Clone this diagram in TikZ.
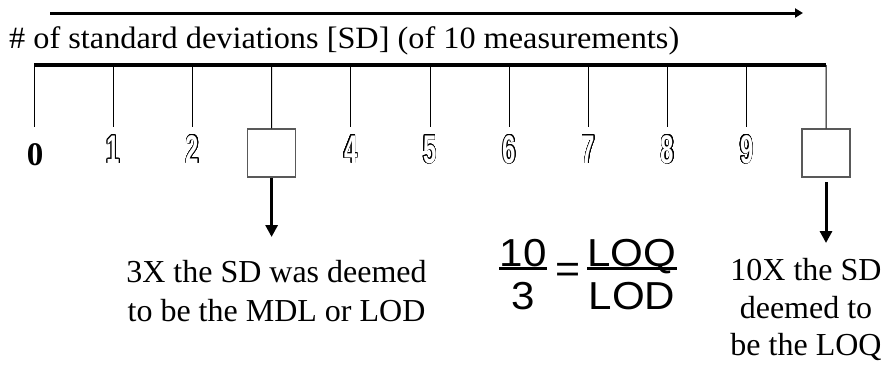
\documentclass[tikz,border=0pt]{standalone}
\usepackage{fontspec}
\setmainfont{Liberation Serif}
\setsansfont{Liberation Sans}
\usepackage{graphicx}
\usepackage{contour}
\contourlength{0.55pt}
\contournumber{24}
\usetikzlibrary{arrows.meta}
\newcommand{\outl}[1]{\textcolor{white}{\contour{black}{\scalebox{0.6}[1]{#1}}}}
\tikzset{
  tickline/.style={line width=1pt},
  axisline/.style={line width=3.5pt},
  toparrow/.style={line width=3pt,-{Triangle[length=8pt,width=9pt]}},
  downarrow/.style={line width=3pt,-{Triangle[length=12pt,width=12pt]}},
  valbox/.style={draw=black!65,line width=1.2pt,minimum width=48pt,minimum height=48pt,inner sep=0pt},
  digit/.style={font=\fontsize{40}{44}\selectfont\sffamily\bfseries,anchor=base,inner sep=0pt},
  zerodigit/.style={font=\fontsize{33}{36}\selectfont\bfseries,anchor=base,inner sep=0pt},
  txt/.style={font=\fontsize{32}{38}\selectfont,anchor=base,inner sep=0pt},
  fr/.style={font=\fontsize{39}{42}\selectfont\sffamily,anchor=base,inner sep=0pt},
  barline/.style={line width=3pt}
}
\begin{document}
\begin{tikzpicture}[x=1pt,y=-1pt]
\useasboundingbox (0,0) rectangle (885,365);
% top arrow
\coordinate (a0) at (50,13);
\coordinate (a1) at (803,13);
\draw[toparrow] (a0) -- (a1);
% title
\node[anchor=base west,inner sep=0pt,font=\fontsize{31}{34}\selectfont] (title) at (9,48)
  {\resizebox{670pt}{\height}{\# of standard deviations [SD] (of 10 measurements)}};
% axis
\foreach \i in {0,...,10} {
  \coordinate (t\i) at ({34+79.2*\i},65);
  \coordinate (e\i) at ({34+79.2*\i},127);
}
\draw[axisline] (t0) -- (t10);
\foreach \i in {0,1,2,4,5,6,7,8,9} { \draw[tickline] (t\i) -- (e\i); }
\node[valbox] (box3) at (271.6,153) {};
\node[valbox] (box10) at (826,153) {};
\draw[tickline] (t3) -- (box3.north);
\draw[tickline] (t10) -- (box10.north);
% digits
\node[zerodigit] (d0) at (35,165) {0};
\node[digit] (d1) at (113.2,163) {\outl{1}};
\node[digit] (d2) at (192.4,163) {\outl{2}};
\node[digit] (d4) at (350.8,163) {\outl{4}};
\node[digit] (d5) at (430,163) {\outl{5}};
\node[digit] (d6) at (509.2,163) {\outl{6}};
\node[digit] (d7) at (588.4,163) {\outl{7}};
\node[digit] (d8) at (667.6,163) {\outl{8}};
\node[digit] (d9) at (746.8,163) {\outl{9}};
% down arrows
\coordinate (lt) at (271.6,237);
\coordinate (rs) at (826,182);
\coordinate (rt) at (826,243);
\draw[downarrow] (box3.south) -- (lt);
\draw[downarrow] (rs) -- (rt);
% left text
\node[txt] (l1) at (276.5,282) {3X the SD was deemed};
\node[txt] (l2) at (276.5,321) {to be the MDL or LOD};
% right text
\node[txt] (r1) at (806,280) {10X the SD};
\node[txt] (r2) at (806,318) {deemed to};
\node[txt] (r3) at (806,355) {be the LOQ};
% fraction
\node[fr] (n10) at (523,266) {\scalebox{1.08}[1]{10}};
\node[fr] (n3) at (523,309) {\scalebox{1.08}[1]{3}};
\coordinate (b1l) at (499,268);
\coordinate (b1r) at (547,268);
\draw[barline] (b1l) -- (b1r);
\node[fr] (eq) at (568,282) {\scalebox{1.1}[1]{=}};
\node[fr] (nloq) at (632,266) {\scalebox{1.08}[1]{LOQ}};
\node[fr] (nlod) at (632,309) {\scalebox{1.08}[1]{LOD}};
\coordinate (b2l) at (587,268);
\coordinate (b2r) at (677,268);
\draw[barline] (b2l) -- (b2r);
\end{tikzpicture}
\end{document}
